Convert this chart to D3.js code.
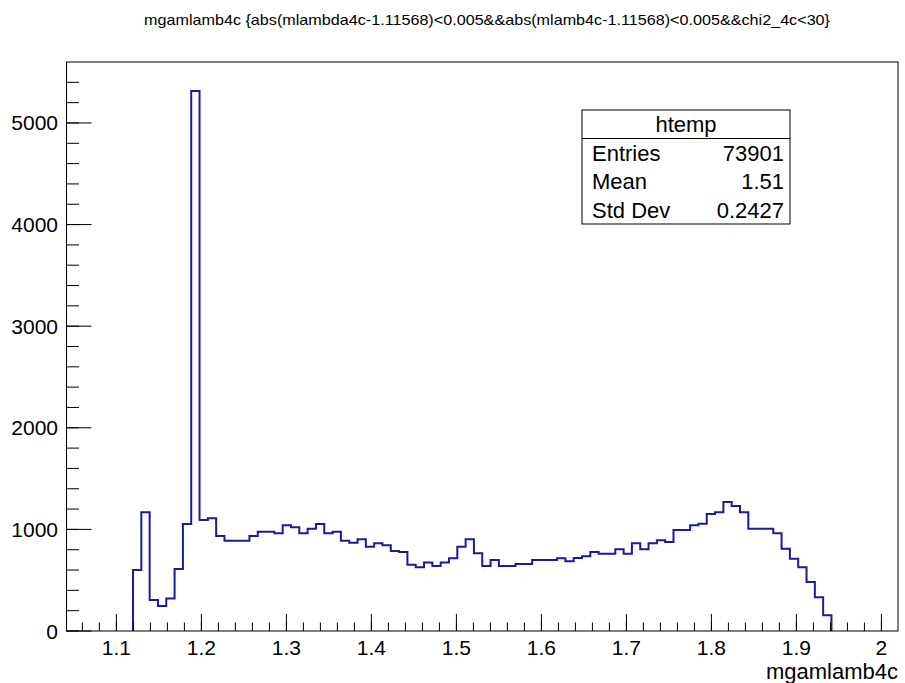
<!DOCTYPE html>
<html>
<head>
<meta charset="utf-8">
<script src="https://cdn.jsdelivr.net/npm/d3@7"></script>
<style>
  html, body { margin: 0; padding: 0; background: #fff; }
  svg { display: block; }
  text { font-family: "Liberation Sans", Arial, Helvetica, sans-serif; fill: #000; }
</style>
</head>
<body>
<svg id="chart" width="905" height="683"></svg>
<script>
// ---- data ----
const titleText = "mgamlamb4c {abs(mlambda4c-1.11568)<0.005&&abs(mlamb4c-1.11568)<0.005&&chi2_4c<30}";
const xAxisTitle = "mgamlamb4c";
const histName = "htemp";
const xMin = 1.0413, xMax = 2.0195, nBins = 100;
const firstBin = 8; // index of first non-empty bin
const counts = [
  600, 1168, 305, 246, 321, 610, 1053, 5315, 1093, 1109,
  935, 889, 889, 889, 935, 978, 978, 961, 1040, 1020,
  961, 1007, 1053, 961, 978, 889, 869, 902, 830, 863,
  843, 787, 778, 653, 627, 673, 640, 673, 715, 830,
  902, 764, 640, 699, 640, 640, 659, 659, 699, 699,
  699, 715, 686, 719, 735, 778, 761, 761, 804, 761,
  863, 804, 863, 892, 876, 994, 994, 1040, 1056, 1152,
  1168, 1270, 1230, 1168, 1007, 1007, 1007, 961, 810, 712,
  627, 482, 331, 154
];
const statLabels = ["Entries", "Mean", "Std Dev"];
const statValues = ["73901", "1.51", "0.2427"];
const xTickValues = [1.1, 1.2, 1.3, 1.4, 1.5, 1.6, 1.7, 1.8, 1.9, 2.0];
const xTickLabels = ["1.1", "1.2", "1.3", "1.4", "1.5", "1.6", "1.7", "1.8", "1.9", "2"];
const yTickValues = [0, 1000, 2000, 3000, 4000, 5000];
const yMax = 5600;

// ---- layout ----
const L = 66.5, R = 898, T = 62, B = 631;
const svg = d3.select("#chart");
const x = d3.scaleLinear().domain([xMin, xMax]).range([L, R]);
const y = d3.scaleLinear().domain([0, yMax]).range([B, T]);
const bw = (xMax - xMin) / nBins;

// histogram outline (non-empty bins)
const x0 = xMin + firstBin * bw;
const pts = [[x0, 0]];
counts.forEach((c, k) => {
  const lo = x0 + k * bw, hi = lo + bw;
  pts.push([lo, c]);
  pts.push([hi, c]);
});
pts.push([x0 + counts.length * bw, 0]);
const line = d3.line().x(d => x(d[0])).y(d => y(d[1]));
svg.append("path")
  .attr("d", line(pts))
  .attr("fill", "none")
  .attr("stroke", "#1a1a9c")
  .attr("stroke-width", 2)
  .attr("stroke-linejoin", "miter");

// frame
svg.append("rect")
  .attr("x", L).attr("y", T).attr("width", R - L).attr("height", B - T)
  .attr("fill", "none").attr("stroke", "#000").attr("stroke-width", 1);

// x axis ticks
const xMajorLen = 17, xMinorLen = 8.5;
const xMinor = d3.range(1.06, 2.021, 0.02).filter(v => v >= xMin && v <= xMax);
const gx = svg.append("g");
xMinor.forEach(v => {
  gx.append("line").attr("x1", x(v)).attr("x2", x(v)).attr("y1", B).attr("y2", B - xMinorLen)
    .attr("stroke", "#000").attr("stroke-width", 1);
});
xTickValues.forEach((v, i) => {
  gx.append("line").attr("x1", x(v)).attr("x2", x(v)).attr("y1", B).attr("y2", B - xMajorLen)
    .attr("stroke", "#000").attr("stroke-width", 1);
  gx.append("text").attr("x", x(v)).attr("y", 655).attr("text-anchor", "middle")
    .attr("font-size", 21).text(xTickLabels[i]);
});

// y axis ticks
const yMajorLen = 25, yMinorLen = 12.5;
const yMinor = d3.range(0, yMax, 200);
const gy = svg.append("g");
yMinor.forEach(v => {
  gy.append("line").attr("x1", L).attr("x2", L + yMinorLen).attr("y1", y(v)).attr("y2", y(v))
    .attr("stroke", "#000").attr("stroke-width", 1);
});
yTickValues.forEach(v => {
  gy.append("line").attr("x1", L).attr("x2", L + yMajorLen).attr("y1", y(v)).attr("y2", y(v))
    .attr("stroke", "#000").attr("stroke-width", 1);
  gy.append("text").attr("x", 58).attr("y", y(v) + 7.5).attr("text-anchor", "end")
    .attr("font-size", 21).text(String(v));
});

// axis title
svg.append("text").attr("x", R).attr("y", 679).attr("text-anchor", "end")
  .attr("font-size", 22).text(xAxisTitle);

// title
svg.append("text").attr("x", 487).attr("y", 25).attr("text-anchor", "middle")
  .attr("font-size", 14.5)
  .attr("textLength", 686).attr("lengthAdjust", "spacingAndGlyphs")
  .text(titleText);

// stats box
const bx0 = 582, bx1 = 790, by0 = 110, by1 = 224;
const rowH = (by1 - by0) / 4;
const gs = svg.append("g");
gs.append("rect").attr("x", bx0).attr("y", by0).attr("width", bx1 - bx0).attr("height", by1 - by0)
  .attr("fill", "#fff").attr("stroke", "#000").attr("stroke-width", 1);
gs.append("line").attr("x1", bx0).attr("x2", bx1).attr("y1", by0 + rowH).attr("y2", by0 + rowH)
  .attr("stroke", "#000").attr("stroke-width", 1);
gs.append("text").attr("x", (bx0 + bx1) / 2).attr("y", by0 + rowH / 2 + 8).attr("text-anchor", "middle")
  .attr("font-size", 22).text(histName);
statLabels.forEach((lab, i) => {
  const cy = by0 + rowH * (i + 1.5) + 8;
  gs.append("text").attr("x", bx0 + 10).attr("y", cy).attr("font-size", 22).text(lab);
  gs.append("text").attr("x", bx1 - 6).attr("y", cy).attr("text-anchor", "end").attr("font-size", 22).text(statValues[i]);
});
</script>
</body>
</html>
